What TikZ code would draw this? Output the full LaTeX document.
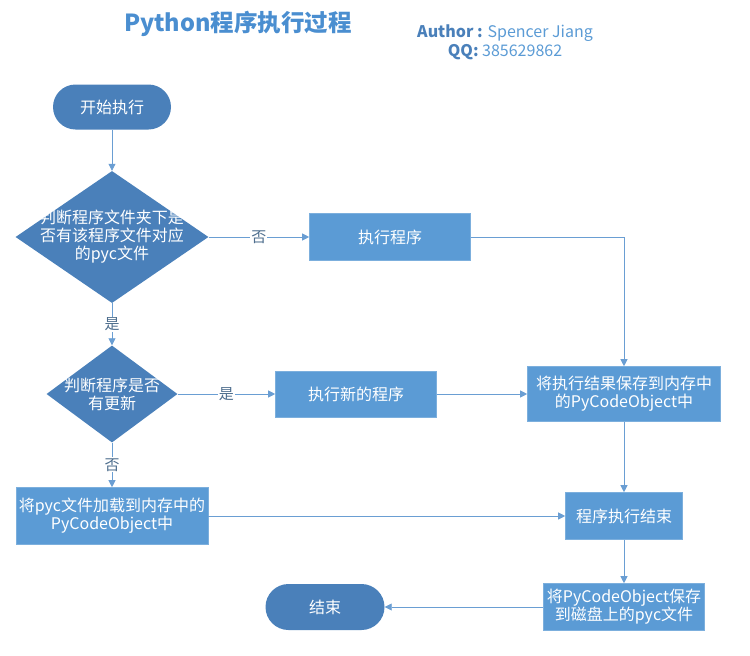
\documentclass[tikz,border=0pt]{standalone}
\usepackage{fontspec}
\setmainfont{Noto Sans CJK SC}
\usetikzlibrary{shapes.geometric,arrows.meta}
\definecolor{boxblue}{HTML}{5B9BD5}
\definecolor{darkblue}{HTML}{4A80BA}
\definecolor{linecol}{HTML}{6A9ED3}
\definecolor{titleblue}{HTML}{4A8ED0}
\definecolor{lblcol}{HTML}{4E6E8E}
\begin{document}
\begin{tikzpicture}[x=1pt,y=-1pt,
  rectbox/.style={rectangle,fill=boxblue,draw=boxblue!80!white,line width=0.6pt,text=white,font=\fontsize{16}{18}\selectfont,align=center,inner sep=0pt},
  termbox/.style={rectangle,rounded corners=22.5pt,fill=darkblue,text=white,font=\fontsize{16}{18}\selectfont,inner sep=0pt,minimum height=45pt},
  dia/.style={diamond,fill=darkblue,inner sep=0pt},
  diatext/.style={text=white,font=\fontsize{16}{18}\selectfont,align=center,inner sep=0pt},
  conn/.style={draw=linecol,line width=0.8pt,-{Triangle[width=7pt,length=7pt]}},
  lbl/.style={fill=white,text=lblcol,font=\fontsize{15}{17}\selectfont,inner sep=1pt}
]
\useasboundingbox (0,0) rectangle (750,656);
\node[text=titleblue,font=\fontsize{23.5}{25}\selectfont\bfseries] (title) at (238,24) {Python程序执行过程};
\node[font=\fontsize{16}{18}\selectfont,align=center,inner sep=0pt] (author) at (505,33) {\textcolor{darkblue}{\bfseries Author :} \textcolor{boxblue}{Spencer Jiang}};
\node[font=\fontsize{16}{18}\selectfont,inner sep=0pt] (qq) at (505,52) {\textcolor{darkblue}{\bfseries QQ:} \textcolor{boxblue}{385629862}};

\node[termbox,minimum width=118pt] (start) at (112,107) {开始执行};
\node[dia,minimum width=193pt,minimum height=132pt] (d1) at (112,237) {};
\node[diatext] (d1t) at (112,237) {判断程序文件夹下是\\否有该程序文件对应\\的pyc文件};
\node[rectbox,minimum width=161pt,minimum height=47pt] (run) at (390,237) {执行程序};
\node[dia,minimum width=131pt,minimum height=97pt] (d2) at (112,394) {};
\node[diatext] (d2t) at (112,394) {判断程序是否\\有更新};
\node[rectbox,minimum width=161pt,minimum height=46pt] (runnew) at (356,394) {执行新的程序};
\node[rectbox,minimum width=193pt,minimum height=55pt] (save) at (624,394) {将执行结果保存到内存中\\的PyCodeObject中};
\node[rectbox,minimum width=192pt,minimum height=57pt] (load) at (112,516) {将pyc文件加载到内存中的\\PyCodeObject中};
\node[rectbox,minimum width=117pt,minimum height=47pt] (done) at (624,516) {程序执行结束};
\node[rectbox,minimum width=161pt,minimum height=47pt] (disk) at (624,607) {将PyCodeObject保存\\到磁盘上的pyc文件};
\node[termbox,minimum width=119pt,minimum height=46pt,rounded corners=23pt] (end) at (325,607) {结束};

\coordinate (corner) at (624,237);
\draw[conn] (start) -- (d1);
\draw[conn] (d1.east) -- node[lbl]{否} (run.west);
\draw[conn] (d1.south) -- node[lbl]{是} (d2.north);
\draw[conn] (d2.east) -- node[lbl]{是} (runnew.west);
\draw[conn] (d2.south) -- node[lbl]{否} (load.north);
\draw[conn] (run.east) -- (corner) -- (save.north);
\draw[conn] (runnew.east) -- (save.west);
\draw[conn] (load.east) -- (done.west);
\draw[conn] (save.south) -- (done.north);
\draw[conn] (done.south) -- (disk.north);
\draw[conn] (disk.west) -- (end.east);
\end{tikzpicture}
\end{document}
